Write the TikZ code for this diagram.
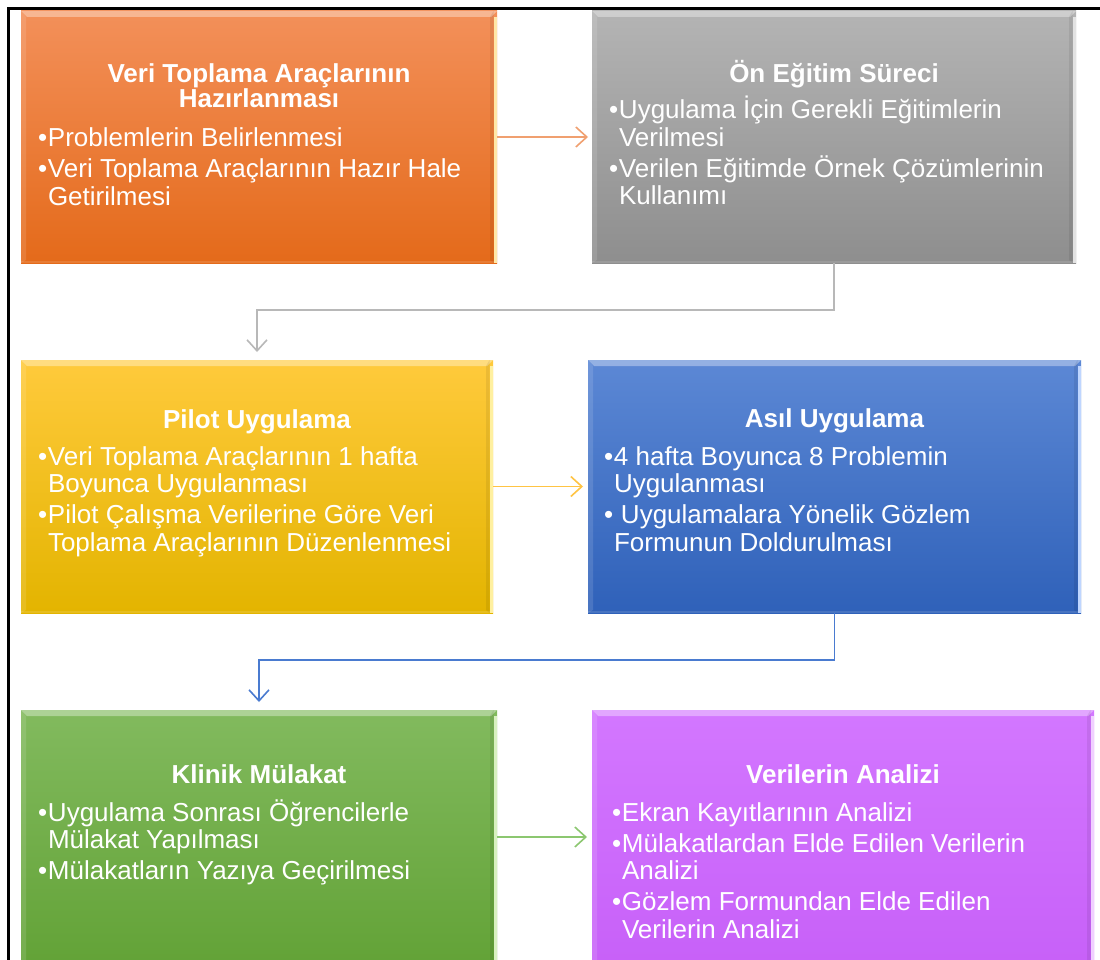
\documentclass[tikz,border=0pt]{standalone}
\usepackage{fontspec}
\setmainfont{Liberation Sans}
\usetikzlibrary{arrows.meta,calc}
\definecolor{or1}{HTML}{F3905A}
\definecolor{or2}{HTML}{E46A1A}
\definecolor{orE}{HTML}{FFE7A8}
\definecolor{orL}{HTML}{F0A070}
\definecolor{gr1}{HTML}{B4B4B4}
\definecolor{gr2}{HTML}{8E8E8E}
\definecolor{grE}{HTML}{E2E2E2}
\definecolor{grL}{HTML}{B8B8B8}
\definecolor{ye1}{HTML}{FFCA3C}
\definecolor{ye2}{HTML}{E3B400}
\definecolor{yeE}{HTML}{FFF0A0}
\definecolor{yeL}{HTML}{FFC444}
\definecolor{bl1}{HTML}{5C88D5}
\definecolor{bl2}{HTML}{2F61B9}
\definecolor{blE}{HTML}{BFD6FF}
\definecolor{blL}{HTML}{4A7BD0}
\definecolor{gn1}{HTML}{82BA5E}
\definecolor{gn2}{HTML}{62A236}
\definecolor{gnE}{HTML}{D8F0C0}
\definecolor{gnL}{HTML}{8CC770}
\definecolor{pu1}{HTML}{D377FF}
\definecolor{pu2}{HTML}{C760F8}
\definecolor{puE}{HTML}{F0D0FF}
\newcommand{\bitem}[1]{\par\hangindent=10pt\hangafter=1\noindent\makebox[10pt][l]{\textbullet}#1\par}
\newcommand{\blist}[1]{\parbox[t]{480pt}{\setlength{\parskip}{3.5pt}\setlength{\parfillskip}{0pt plus 1fil}\fontsize{26}{27.5}\selectfont #1}}
\newcommand{\ttl}[1]{\parbox[t]{460pt}{\centering\bfseries\fontsize{26}{25}\selectfont #1}}
\tikzset{
  box/.style={rectangle, draw=none, inner sep=0pt, outer sep=0pt,
    path picture={
      \fill[white, opacity=0.35] (path picture bounding box.north west) -- (path picture bounding box.north east)
        -- ([xshift=-6pt,yshift=-6pt]path picture bounding box.north east)
        -- ([xshift=6pt,yshift=-6pt]path picture bounding box.north west) -- cycle;
      \fill[white, opacity=0.12] (path picture bounding box.north west) -- ([xshift=5pt,yshift=-6pt]path picture bounding box.north west)
        -- ([xshift=5pt,yshift=3pt]path picture bounding box.south west) -- (path picture bounding box.south west) -- cycle;
      \fill[black, opacity=0.07] ([xshift=-3.5pt]path picture bounding box.north east) -- ([xshift=-7pt,yshift=-6pt]path picture bounding box.north east)
        -- ([xshift=-7pt,yshift=3pt]path picture bounding box.south east) -- ([xshift=-3.5pt]path picture bounding box.south east) -- cycle;
      \fill[white, opacity=0.12] (path picture bounding box.south west) rectangle ([yshift=2.5pt]path picture bounding box.south east);
    }},
  txt/.style={text=white, inner sep=0pt, outer sep=0pt},
  conn/.style={line width=1.6pt, -{Straight Barb[length=11pt,width=20pt]}}
}
\begin{document}
\begin{tikzpicture}[x=1pt, y=-1pt]
\useasboundingbox (0,0) rectangle (1100,960);
\clip (0,0) rectangle (1100,960);
\fill[white] (0,0) rectangle (1100,960);
\draw[line width=3pt] (8.5,1000) -- (8.5,8.5) -- (1120,8.5);

% boxes
\node[box, top color=or1, bottom color=or2, minimum width=476pt, minimum height=252pt] (prep) at (259,137) {};
\node[box, top color=gr1, bottom color=gr2, minimum width=484pt, minimum height=252pt] (pre) at (834,137) {};
\node[box, top color=ye1, bottom color=ye2, minimum width=472pt, minimum height=253pt] (pilot) at (257,486.5) {};
\node[box, top color=bl1, bottom color=bl2, minimum width=493pt, minimum height=253pt] (main) at (834.5,486.5) {};
\node[box, top color=gn1, bottom color=gn2, minimum width=476pt, minimum height=260pt] (clin) at (259,840) {};
\node[box, top color=pu1, bottom color=pu2, minimum width=502pt, minimum height=260pt] (anal) at (843,840) {};

% light right edges
\fill[orE] ($(prep.north east)+(-3.5pt,-6pt)$) rectangle (prep.south east);
\fill[grE] ($(pre.north east)+(-3pt,-6pt)$) rectangle (pre.south east);
\fill[yeE] ($(pilot.north east)+(-3pt,-6pt)$) rectangle (pilot.south east);
\fill[blE] ($(main.north east)+(-3pt,-6pt)$) rectangle (main.south east);
\fill[gnE] ($(clin.north east)+(-3pt,-6pt)$) rectangle (clin.south east);
\fill[puE] ($(anal.north east)+(-3pt,-6pt)$) rectangle (anal.south east);

% texts
\node[txt, anchor=base] (prepT) at (259,83) {\ttl{Veri Toplama Araçlarının\\Hazırlanması}};
\node[txt, anchor=base west] (prepB) at (38,147) {\blist{\bitem{Problemlerin Belirlenmesi}\bitem{Veri Toplama Araçlarının Hazır Hale\newline Getirilmesi}}};

\node[txt, anchor=base] (preT) at (834,83) {\ttl{Ön Eğitim Süreci}};
\node[txt, anchor=base west] (preB) at (609,119) {\blist{\bitem{Uygulama İçin Gerekli Eğitimlerin\newline Verilmesi}\bitem{Verilen Eğitimde Örnek Çözümlerinin\newline Kullanımı}}};

\node[txt, anchor=base] (pilotT) at (257,428) {\ttl{Pilot Uygulama}};
\node[txt, anchor=base west] (pilotB) at (38,465) {\blist{\bitem{Veri Toplama Araçlarının 1 hafta\newline Boyunca Uygulanması}\bitem{Pilot Çalışma Verilerine Göre Veri\newline Toplama Araçlarının Düzenlenmesi}}};

\node[txt, anchor=base] (mainT) at (834.5,427) {\ttl{Asıl Uygulama}};
\node[txt, anchor=base west] (mainB) at (604,465) {\blist{\bitem{4 hafta Boyunca 8 Problemin\newline Uygulanması}\bitem{\hspace{7pt}Uygulamalara Yönelik Gözlem\newline Formunun Doldurulması}}};

\node[txt, anchor=base] (clinT) at (259,783) {\ttl{Klinik Mülakat}};
\node[txt, anchor=base west] (clinB) at (38,821) {\blist{\bitem{Uygulama Sonrası Öğrencilerle\newline Mülakat Yapılması}\bitem{Mülakatların Yazıya Geçirilmesi}}};

\node[txt, anchor=base] (analT) at (843,783) {\ttl{Verilerin Analizi}};
\node[txt, anchor=base west] (analB) at (612,821) {\blist{\bitem{Ekran Kayıtlarının Analizi}\bitem{Mülakatlardan Elde Edilen Verilerin\newline Analizi}\bitem{Gözlem Formundan Elde Edilen\newline Verilerin Analizi}}};

% connectors
\draw[conn, orL] (prep.east) -- ($(prep.east -| pre.west)+(-4pt,0)$);
\draw[conn, grL] (pre.south) -- ++(0,47) -| ($(pilot.north)+(0,8pt)$);
\draw[conn, yeL] (pilot.east) -- ($(pilot.east -| main.west)+(-5pt,0)$);
\draw[conn, blL] (main.south) -- ++(0,47) -| ($(clin.north)+(0,8pt)$);
\draw[conn, gnL] ($(clin.north east)+(0,127)$) coordinate (cg) -- ($(cg -| anal.west)+(-5pt,0)$);
\end{tikzpicture}
\end{document}
